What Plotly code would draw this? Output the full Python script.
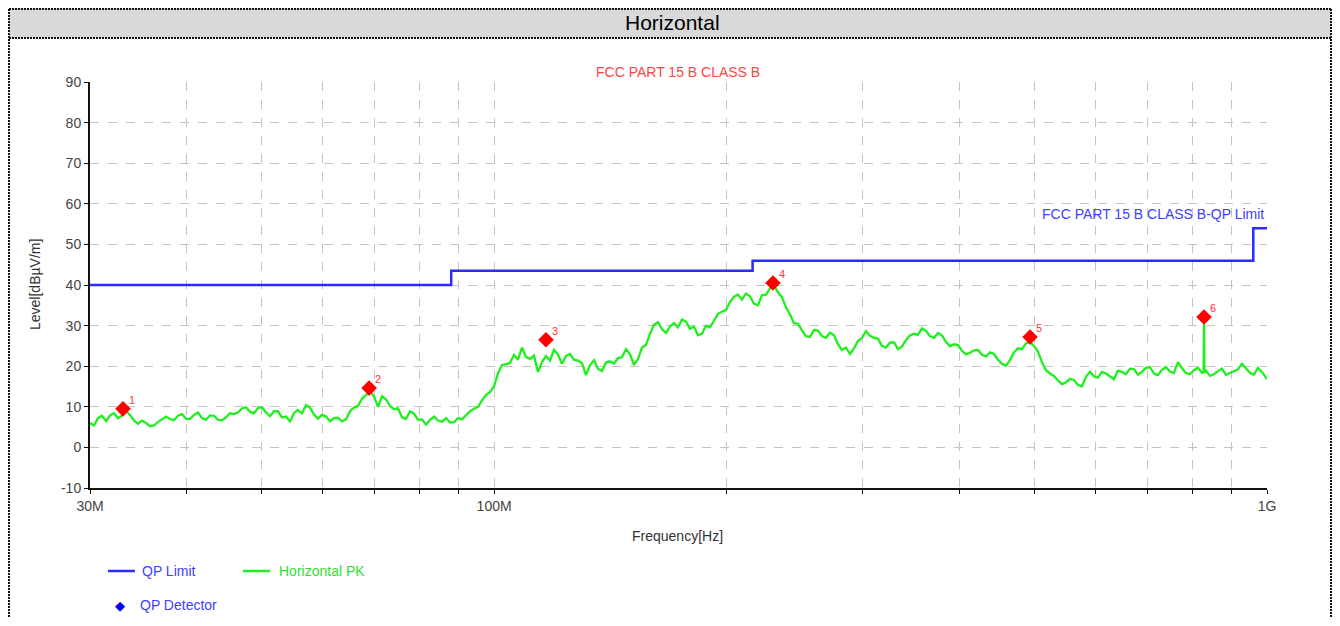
import numpy as np
import plotly.graph_objects as go

# ---------------- data ----------------
pk_freq_mhz = [30.0, 30.72, 31.47, 32.23, 33.00, 33.80, 34.61, 35.45, 36.30, 37.18,
               38.08, 38.99, 39.93, 40.90, 41.88, 42.89, 43.93, 44.99, 46.07, 47.18,
               48.32, 49.49, 50.68, 51.90, 53.15, 54.44, 55.75, 57.09, 58.47, 59.88,
               61.33, 62.81, 64.32, 65.87, 67.46, 69.09, 70.76, 72.46, 74.21, 76.00,
               77.84, 79.71, 81.64, 83.61, 85.62, 87.69, 89.80, 91.97, 94.19, 96.46,
               98.78, 101.16, 103.60, 106.10, 108.66, 111.28, 113.96, 116.71, 119.53, 122.41,
               125.36, 128.38, 131.48, 134.65, 137.90, 141.23, 144.63, 148.12, 151.69, 155.35,
               159.10, 162.94, 166.87, 170.89, 175.01, 179.23, 183.55, 187.98, 192.51, 197.15,
               201.91, 206.78, 211.77, 216.88, 222.11, 227.46, 232.95, 238.57, 244.32, 250.21,
               256.25, 262.43, 268.76, 275.24, 281.88, 288.68, 295.64, 302.77, 310.07, 317.55,
               325.21, 333.05, 341.08, 349.31, 357.73, 366.36, 375.20, 384.25, 393.52, 403.01,
               412.73, 422.68, 432.87, 443.31, 454.00, 464.95, 476.17, 487.65, 499.41, 511.46,
               523.79, 536.42, 549.36, 562.61, 576.18, 590.08, 604.31, 618.88, 633.81, 649.09,
               664.75, 680.78, 697.20, 714.01, 731.23, 748.87, 766.93, 785.43, 804.37, 823.77,
               828.0, 829.0, 830.0,
               843.64, 863.98, 884.82, 906.16, 928.02, 950.40, 973.32, 996.80, 1000.0]
pk_level = [6.0, 7.2, 6.5, 8.4, 7.8, 8.0, 5.8, 6.0, 5.4, 6.9,
            7.0, 7.8, 7.1, 8.0, 7.2, 7.9, 6.8, 7.4, 8.2, 9.6,
            8.8, 9.7, 8.6, 8.9, 7.4, 6.4, 9.2, 10.4, 8.1, 8.0,
            6.4, 7.3, 6.9, 9.8, 12.0, 13.8, 10.0, 11.8, 9.4, 7.4,
            8.9, 6.8, 5.6, 7.6, 6.3, 6.1, 7.2, 7.9, 9.5, 11.6,
            13.6, 18.2, 20.5, 22.8, 24.6, 21.8, 18.6, 22.5, 24.0, 20.6,
            23.0, 21.4, 17.8, 21.5, 18.8, 21.2, 22.0, 24.2, 20.3, 24.6,
            28.0, 30.8, 28.2, 30.6, 31.5, 29.2, 27.6, 30.0, 31.2, 33.4,
            35.8, 37.6, 37.9, 35.4, 37.5, 39.2, 38.2, 34.5, 30.6, 28.8,
            27.2, 28.8, 27.0, 27.6, 24.0, 23.0, 26.2, 28.6, 27.0, 25.0,
            25.8, 24.2, 26.4, 28.0, 29.3, 27.4, 28.2, 26.0, 25.4, 23.8,
            23.3, 24.0, 22.4, 23.0, 20.6, 21.5, 24.4, 25.6, 25.0, 21.0,
            18.2, 16.5, 16.0, 16.6, 15.0, 18.6, 17.2, 18.2, 16.8, 18.6,
            19.4, 17.9, 19.6, 18.2, 19.1, 18.7, 21.0, 18.3, 19.0, 18.4,
            18.5, 32.0, 18.5,
            17.6, 18.8, 17.9, 18.9, 20.6, 18.4, 19.6, 17.0, 16.8]

# in-between sweep points (read as the jitter of the peak trace)
pk_freq_mid_mhz = [30.36, 31.09, 31.85, 32.62, 33.40, 34.21, 35.03, 35.88, 36.74, 37.63,
                   38.54, 39.46, 40.41, 41.39, 42.38, 43.40, 44.46, 45.53, 46.62, 47.75,
                   48.90, 50.08, 51.29, 52.52, 53.79, 55.09, 56.42, 57.77, 59.17, 60.60,
                   62.07, 63.56, 65.09, 66.66, 68.27, 69.92, 71.61, 73.33, 75.10, 76.91,
                   78.77, 80.67, 82.62, 84.61, 86.65, 88.74, 90.88, 93.07, 95.32, 97.62,
                   99.96, 102.37, 104.84, 107.37, 109.96, 112.61, 115.33, 118.11, 120.96, 123.88,
                   126.86, 129.92, 133.06, 136.26, 139.55, 142.92, 146.36, 149.90, 153.51, 157.21,
                   161.01, 164.89, 168.87, 172.94, 177.11, 181.38, 185.75, 190.23, 194.82, 199.51,
                   204.33, 209.26, 214.31, 219.48, 224.77, 230.19, 235.74, 241.43, 247.25, 253.21,
                   259.32, 265.58, 271.98, 278.54, 285.26, 292.14, 299.18, 306.40, 313.79, 321.36,
                   329.10, 337.04, 345.17, 353.50, 362.02, 370.75, 379.70, 388.85, 398.23, 407.84,
                   417.67, 427.74, 438.06, 448.62, 459.44, 470.52, 481.88, 493.50, 505.40, 517.59,
                   530.07, 542.85, 555.94, 569.35, 583.09, 597.15, 611.55, 626.30, 641.40, 656.87,
                   672.71, 688.94, 705.55, 722.57, 740.00, 757.85, 776.12, 794.85, 814.02, 833.65,
                   853.75, 874.34, 895.43, 917.02, 939.16, 961.81, 985.00]
pk_level_mid = [5.4, 7.8, 7.9, 7.2, 8.9, 6.6, 6.6, 5.2, 6.3, 7.6,
                6.7, 8.2, 7.0, 8.6, 6.8, 7.8, 6.7, 8.4, 8.6, 9.9,
                8.4, 9.9, 7.7, 8.9, 7.6, 8.5, 8.4, 9.8, 7.1, 7.6,
                7.2, 6.4, 8.9, 10.2, 13.0, 12.5, 12.6, 10.2, 9.6, 7.0,
                8.3, 6.9, 6.8, 6.6, 7.2, 6.2, 6.9, 8.9, 10.0, 12.9,
                15.0, 20.3, 20.8, 21.6, 22.3, 22.6, 21.0, 21.4, 22.9, 22.5,
                21.6, 20.8, 20.2, 19.4, 20.9, 20.6, 22.2, 22.9, 21.8, 25.2,
                30.2, 29.1, 29.8, 29.6, 31.0, 29.8, 28.0, 29.6, 32.9, 33.8,
                37.1, 36.4, 37.2, 35.0, 37.6, 39.9, 37.0, 32.8, 30.5, 27.4,
                28.9, 27.4, 28.3, 25.4, 24.6, 24.4, 27.0, 27.5, 26.8, 24.6,
                25.9, 24.8, 27.6, 27.7, 28.7, 27.0, 27.6, 24.9, 25.2, 22.9,
                23.9, 22.8, 23.4, 21.6, 20.1, 23.4, 24.2, 26.0, 23.6, 19.0,
                17.6, 15.6, 16.9, 15.4, 17.4, 17.5, 18.6, 17.4, 18.9, 18.0,
                19.3, 18.6, 19.8, 17.8, 19.8, 18.3, 19.5, 18.0, 19.6, 18.9,
                18.0, 19.4, 18.3, 19.2, 19.6, 17.9, 18.6]

limit_freq_mhz = [30, 88, 216, 960, 1000]
limit_level = [40, 43.5, 46, 54, 54]

qp_freq_mhz = [33.1, 68.9, 116.7, 229.5, 493.6, 829.0]
qp_level = [9.5, 14.6, 26.5, 40.5, 27.2, 32.1]
qp_labels = ["1", "2", "3", "4", "5", "6"]

x_tick_mhz = [30, 40, 50, 60, 70, 80, 90, 100, 200, 300, 400, 500, 600, 700, 800, 900, 1000]
x_tick_text = ["30M", "", "", "", "", "", "", "100M", "", "", "", "", "", "", "", "", "1G"]
y_ticks = [-10, 0, 10, 20, 30, 40, 50, 60, 70, 80, 90]
y_tick_text = ["-10", "0", "10", "20", "30", "40", "50", "60", "70", "80", "90"]

# merge the two sweeps in frequency order
pk_pairs = sorted(zip(pk_freq_mhz + pk_freq_mid_mhz, pk_level + pk_level_mid))
pk_x = [p[0] * 1e6 for p in pk_pairs]
pk_y = [p[1] for p in pk_pairs]

OFF = 8  # page body margin
W, H = 1340 - 2 * OFF, 626 - 2 * OFF
def px(x):
    return (x - OFF) / W
def py(y):
    return 1 - (y - OFF) / H

NARROW = "Liberation Sans Narrow, Arial Narrow, Liberation Sans, Arial"
BLUE = "#2b2bff"
GREEN = "#1ef01e"

fig = go.Figure()
fig.add_trace(go.Scatter(x=[f * 1e6 for f in limit_freq_mhz], y=limit_level, mode="lines",
                         line=dict(color=BLUE, width=2.5, shape="hv"), name="QP Limit",
                         showlegend=False))
fig.add_trace(go.Scatter(x=pk_x, y=pk_y, mode="lines",
                         line=dict(color=GREEN, width=2.3), name="Horizontal PK",
                         showlegend=False))
fig.add_trace(go.Scatter(x=[f * 1e6 for f in qp_freq_mhz], y=qp_level, mode="markers",
                         marker=dict(symbol="diamond", color="#ff0000", size=12),
                         name="QP Detector", showlegend=False))

annotations = []
for f, l, t in zip(qp_freq_mhz, qp_level, qp_labels):
    annotations.append(dict(x=np.log10(f * 1e6), y=l, xref="x", yref="y", text=t,
                            showarrow=False, xshift=9, yshift=9,
                            font=dict(family=NARROW, size=11, color="#ff3333")))

annotations += [
    dict(x=px(672), y=py(22), xref="paper", yref="paper", text="Horizontal", showarrow=False,
         font=dict(family="Liberation Sans, Arial", size=21, color="#000"), xanchor="center", yanchor="middle"),
    dict(x=px(678), y=py(72), xref="paper", yref="paper", text="FCC PART 15 B CLASS B", showarrow=False,
         font=dict(family=NARROW, size=14, color="#ff4444"), xanchor="center", yanchor="middle"),
    dict(x=px(1266), y=py(214), xref="paper", yref="paper", text="FCC PART 15 B CLASS B-QP Limit",
         showarrow=False, font=dict(family=NARROW, size=14, color="#4040ff"), xanchor="right", yanchor="middle"),
    dict(x=px(678), y=py(536), xref="paper", yref="paper", text="Frequency[Hz]", showarrow=False,
         font=dict(family=NARROW, size=14, color="#333"), xanchor="center", yanchor="middle"),
    dict(x=px(35), y=py(285), xref="paper", yref="paper", text="Level[dBµV/m]", showarrow=False,
         textangle=-90, font=dict(family=NARROW, size=14, color="#333"), xanchor="center", yanchor="middle"),
    dict(x=px(140), y=py(571), xref="paper", yref="paper", text="QP Limit", showarrow=False,
         font=dict(family=NARROW, size=14, color="#4040ff"), xanchor="left", yanchor="middle"),
    dict(x=px(277), y=py(571), xref="paper", yref="paper", text="Horizontal PK", showarrow=False,
         font=dict(family=NARROW, size=14, color="#33dd33"), xanchor="left", yanchor="middle"),
    dict(x=px(120), y=py(605), xref="paper", yref="paper", text="◆", showarrow=False,
         font=dict(family="DejaVu Sans", size=13, color="#0000ee"), xanchor="center", yanchor="middle"),
    dict(x=px(138), y=py(605), xref="paper", yref="paper", text="QP Detector", showarrow=False,
         font=dict(family=NARROW, size=14, color="#4040ff"), xanchor="left", yanchor="middle"),
]

RIGHT = 1331
dash_border = dict(color="#111", width=2, dash="2px,1px")
shapes = [
    dict(type="rect", xref="paper", yref="paper", x0=px(9), x1=px(RIGHT), y0=py(38), y1=py(8),
         fillcolor="#d9d9d9", line=dict(width=0), layer="below"),
    dict(type="line", xref="paper", yref="paper", x0=px(9), x1=px(RIGHT), y0=py(9), y1=py(9), line=dash_border),
    dict(type="line", xref="paper", yref="paper", x0=px(9), x1=px(RIGHT), y0=py(38), y1=py(38), line=dash_border),
    dict(type="line", xref="paper", yref="paper", x0=px(9), x1=px(9), y0=py(9), y1=py(640), line=dash_border),
    dict(type="line", xref="paper", yref="paper", x0=px(RIGHT), x1=px(RIGHT), y0=py(9), y1=py(640), line=dash_border),
    dict(type="line", xref="paper", yref="paper", x0=px(108), x1=px(135), y0=py(571), y1=py(571),
         line=dict(color=BLUE, width=2.5)),
    dict(type="line", xref="paper", yref="paper", x0=px(243), x1=px(270), y0=py(571), y1=py(571),
         line=dict(color=GREEN, width=2.5)),
]

fig.update_layout(
    width=W, height=H, autosize=False,
    margin=dict(l=0, r=0, t=0, b=0, pad=0, autoexpand=False),
    paper_bgcolor="white", plot_bgcolor="white",
    showlegend=False,
    annotations=annotations, shapes=shapes,
    xaxis=dict(type="log", domain=[px(90), px(1267)], automargin=False,
               range=[np.log10(30e6), np.log10(1e9)],
               tickvals=[t * 1e6 for t in x_tick_mhz], ticktext=x_tick_text,
               showgrid=True, gridcolor="#c4c4c4", griddash="dash", gridwidth=1,
               showline=True, linecolor="#111", linewidth=2,
               ticks="outside", ticklen=4, tickcolor="#111", tickwidth=1,
               tickfont=dict(family=NARROW, size=14, color="#444"), zeroline=False),
    yaxis=dict(domain=[py(488), py(82)], range=[-10, 90], tickvals=y_ticks, ticktext=y_tick_text,
               automargin=False,
               showgrid=True, gridcolor="#c4c4c4", griddash="dash", gridwidth=1,
               showline=True, linecolor="#111", linewidth=2,
               ticks="outside", ticklen=4, tickcolor="#111", tickwidth=1,
               tickfont=dict(family=NARROW, size=14, color="#444"), zeroline=False),
)

fig.write_html("out.html", config={"responsive": False})
